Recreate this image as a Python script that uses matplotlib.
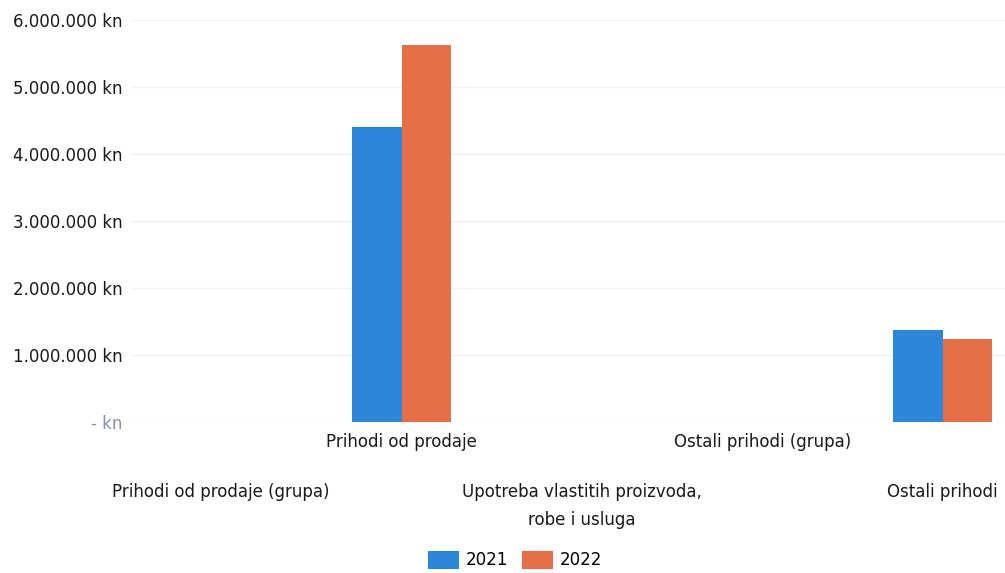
import numpy as np
import matplotlib.pyplot as plt
from matplotlib.ticker import FuncFormatter

# Data
categories = [
    "Prihodi od prodaje (grupa)",
    "Prihodi od prodaje",
    "Upotreba vlastitih proizvoda,\nrobe i usluga",
    "Ostali prihodi (grupa)",
    "Ostali prihodi",
]
values_2021 = [0, 4400000, 0, 0, 1380000]
values_2022 = [0, 5630000, 0, 0, 1240000]
years = ["2021", "2022"]
y_ticks = [0, 1000000, 2000000, 3000000, 4000000, 5000000, 6000000]

blue = "#2c86dc"
orange = "#e56f47"

fig = plt.figure(figsize=(10.05, 5.73), dpi=100)
# axes runs past the right edge, like the cropped original
ax = fig.add_axes([131 / 1005, 1 - 422 / 573, 902 / 1005, 402 / 573])

x = np.arange(len(categories))
w = 0.275
ax.bar(x - w / 2, values_2021, width=w, color=blue, linewidth=0, label=years[0])
ax.bar(x + w / 2, values_2022, width=w, color=orange, linewidth=0, label=years[1])

ax.set_xlim(-0.5, len(categories) - 0.5)
ax.set_ylim(0, 6000000)
ax.set_yticks(y_ticks)


def kn(v, pos):
    if v == 0:
        return "- kn"
    return "{:,.0f}".format(v).replace(",", ".") + " kn"


ax.yaxis.set_major_formatter(FuncFormatter(kn))
ax.tick_params(axis="y", length=0, pad=6, labelsize=12, labelcolor="#1a1a1a")
ax.get_yticklabels()[0].set_color("#8a8fa8")

ax.set_xticks(x)
ax.set_xticklabels(categories, fontsize=12, color="#1a1a1a", linespacing=1.7)
ax.tick_params(axis="x", length=0)
for i, tick in enumerate(ax.xaxis.get_major_ticks()):
    tick.set_pad(8 if i % 2 == 1 else 44)

ax.grid(axis="y", color="#f0f0f0", linewidth=0.8)
ax.set_axisbelow(True)
for s in ax.spines.values():
    s.set_visible(False)

leg = fig.legend(
    loc="center",
    bbox_to_anchor=(515 / 1005, 1 - 560 / 573),
    ncol=2,
    frameon=False,
    fontsize=12,
    handlelength=1.9,
    handleheight=1.3,
    columnspacing=0.8,
    handletextpad=0.4,
)

fig.savefig("out.png", dpi=100)
